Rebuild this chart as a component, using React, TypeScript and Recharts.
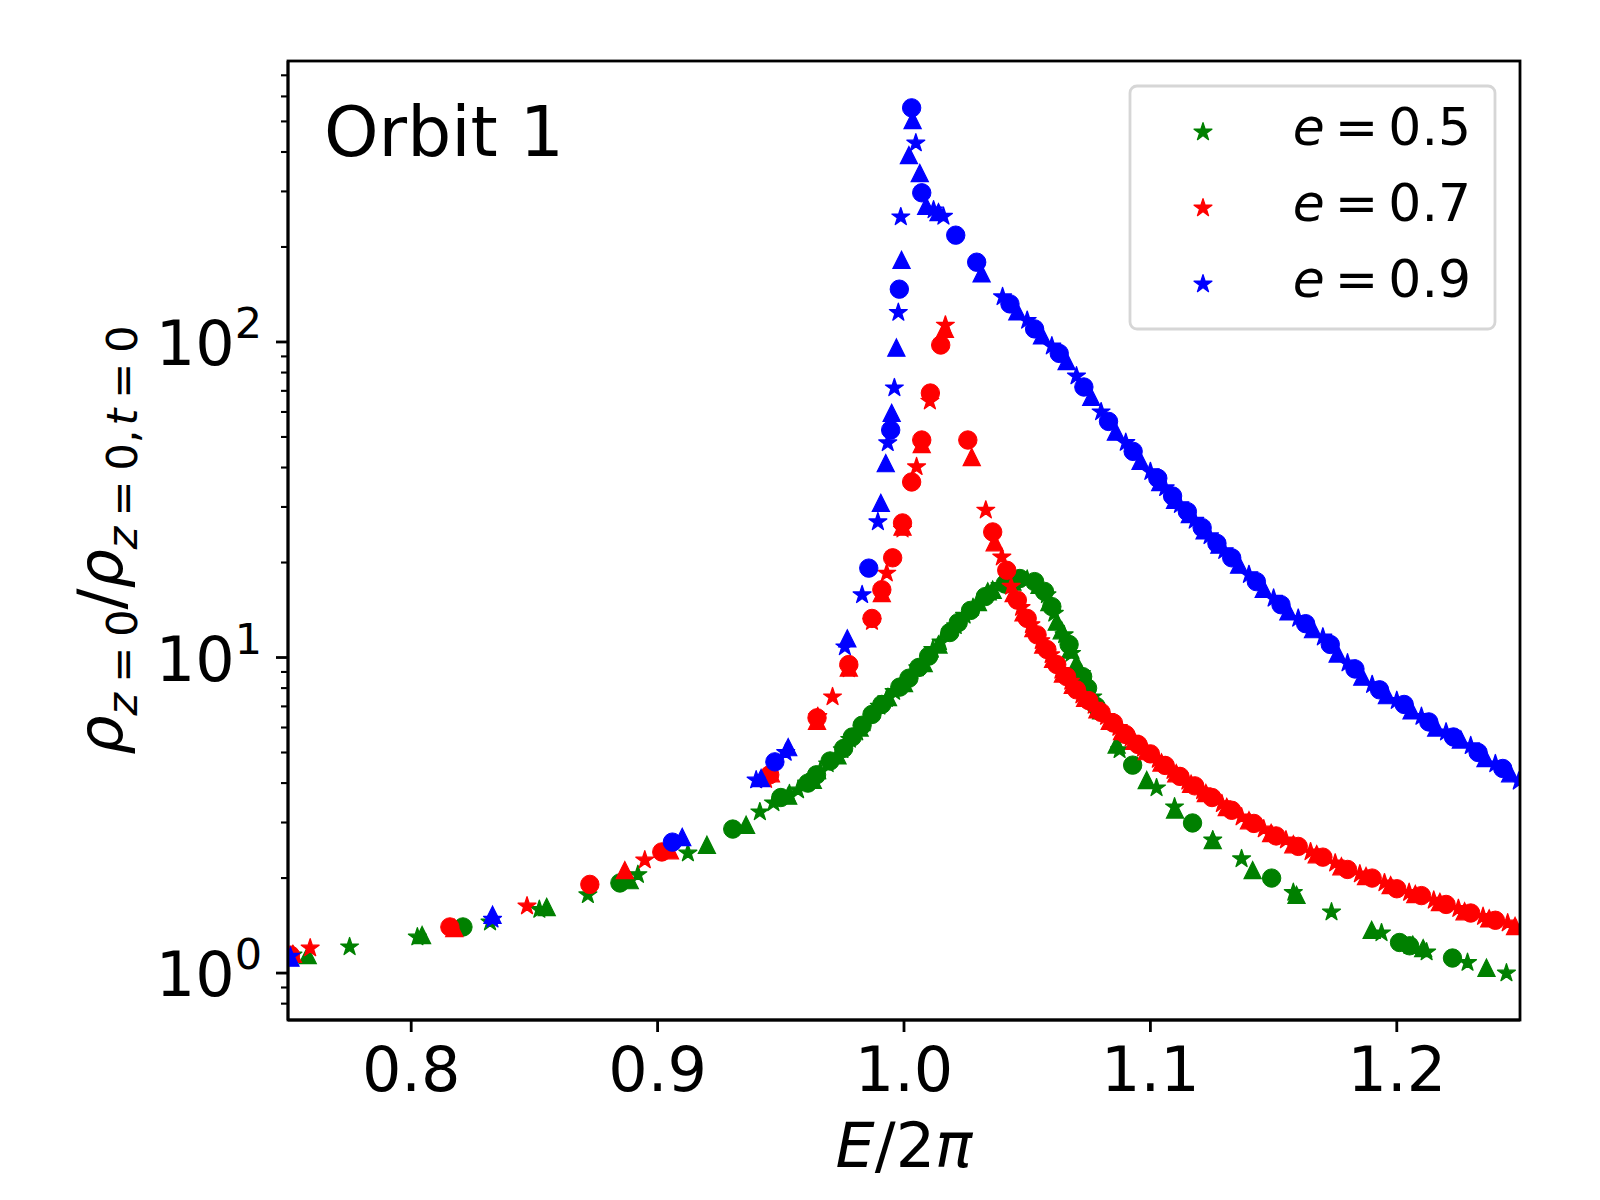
import React from 'react';
import { ScatterChart, Scatter, XAxis, YAxis } from 'recharts';

const FONT = '"DejaVu Sans", sans-serif';
const W = 1584;
const H = 1184;
const PL = 280;
const PT = 53;
const PW = 1232;
const PH = 959;
const PB = PT + PH;

const GREEN = '#008000';
const RED = '#ff0000';
const BLUE = '#0000ff';

const xDomain: [number, number] = [0.75, 1.25];
const yDomain: [number, number] = [0.71, 777];
const xTicks = [0.8, 0.9, 1.0, 1.1, 1.2];
const yMajorTicks = [1, 10, 100];
const yMajorExponents = ['0', '1', '2'];
const yMinorTicks = [0.8, 0.9, 2, 3, 4, 5, 6, 7, 8, 9, 20, 30, 40, 50, 60, 70, 80, 90, 200, 300, 400, 500, 600, 700];
const legendLabels = ['0.5', '0.7', '0.9'];

// e = 0.5
const greenStars: [number, number][] = [
  [0.752, 1.14], [0.775, 1.21], [0.8025, 1.30], [0.832, 1.45], [0.852, 1.59], [0.8717, 1.77], [0.892, 2.05],
  [0.9123, 2.40], [0.9415, 3.24], [0.947, 3.46], [0.9535, 3.7], [0.957, 3.8], [0.9605, 4.0], [0.966, 4.36],
  [0.969, 4.6], [0.975, 5.1], [0.978, 5.5], [0.981, 5.8], [0.984, 6.2], [0.990, 7.0], [0.993, 7.4], [0.996, 7.8],
  [1.000, 8.3], [1.0056, 9.27], [1.0117, 10.6], [1.015, 11.2], [1.021, 12.6], [1.0246, 13.6], [1.028, 14.4],
  [1.039, 16.9], [1.050, 17.7], [1.058, 15.8], [1.061, 13.8], [1.065, 11.8], [1.068, 10.3], [1.072, 8.9],
  [1.0766, 7.5], [1.0875, 5.1], [1.1025, 3.86], [1.1098, 3.36], [1.1253, 2.64], [1.137, 2.30], [1.158, 1.80],
  [1.1735, 1.56], [1.1938, 1.34], [1.2121, 1.166], [1.2287, 1.08], [1.2445, 1.0],
];
const greenCircles: [number, number][] = [
  [0.821, 1.40], [0.8847, 1.93], [0.9305, 2.86], [0.950, 3.6], [0.961, 4.0], [0.9645, 4.25], [0.970, 4.7],
  [0.9755, 5.15], [0.979, 5.6], [0.983, 6.1], [0.987, 6.6], [0.991, 7.1], [0.9983, 8.06], [1.002, 8.6],
  [1.006, 9.3], [1.010, 10.1], [1.0186, 12.0], [1.022, 12.9], [1.027, 14.1], [1.033, 15.6], [1.041, 17.1],
  [1.047, 17.8], [1.053, 17.4], [1.057, 16.2], [1.060, 14.5], [1.067, 11.0], [1.0725, 8.7], [1.0745, 8.0],
  [1.078, 7.0], [1.0928, 4.56], [1.1171, 2.99], [1.1492, 2.0], [1.2011, 1.25], [1.2052, 1.22], [1.2226, 1.116],
];
const greenTriangles: [number, number][] = [
  [0.758, 1.14], [0.8044, 1.32], [0.855, 1.62], [0.8887, 1.97], [0.92, 2.55], [0.9359, 2.95], [0.953, 3.65],
  [0.963, 4.1], [0.973, 4.9], [0.982, 6.0], [0.9935, 7.5], [1.000, 8.3], [1.008, 9.6], [1.014, 11.0],
  [1.030, 15.0], [1.034, 16.2], [1.036, 16.4], [1.044, 17.4], [1.055, 17.0], [1.059, 15.0], [1.062, 13.0],
  [1.064, 12.2], [1.0675, 10.6], [1.070, 9.6], [1.080, 6.8], [1.0863, 5.3], [1.0985, 4.09], [1.110, 3.3],
  [1.1253, 2.64], [1.1415, 2.12], [1.1593, 1.77], [1.1898, 1.37], [1.2065, 1.23], [1.2107, 1.2], [1.2364, 1.04],
];

// e = 0.7
const redStars: [number, number][] = [
  [0.759, 1.20], [0.847, 1.63], [0.8948, 2.28], [0.944, 4.1], [0.965, 6.5], [0.971, 7.5], [0.9776, 9.2],
  [0.987, 13.0], [0.993, 18.5], [0.9994, 25.5], [1.0051, 40.2], [1.0105, 64.9], [1.0168, 113], [1.0332, 29.3],
  [1.0397, 20.8], [1.0435, 16.8], [1.0475, 14.4], [1.0515, 12.7], [1.0555, 11.3], [1.0595, 10.2], [1.0635, 9.1],
  [1.0675, 8.4], [1.072, 7.6], [1.077, 7.05], [1.082, 6.5], [1.087, 6.0], [1.092, 5.55], [1.097, 5.15],
  [1.103, 4.75], [1.109, 4.38], [1.115, 4.05], [1.121, 3.78], [1.129, 3.44], [1.137, 3.12], [1.146, 2.86],
  [1.155, 2.64], [1.165, 2.42], [1.175, 2.23], [1.185, 2.06], [1.195, 1.93], [1.205, 1.8], [1.215, 1.7],
  [1.225, 1.6], [1.235, 1.51], [1.245, 1.44],
];
const redCircles: [number, number][] = [
  [0.751, 1.14], [0.8157, 1.40], [0.8725, 1.91], [0.9017, 2.42], [0.9455, 4.25], [0.9647, 6.44], [0.9776, 9.5],
  [0.987, 13.3], [0.991, 16.4], [0.9954, 20.7], [0.9994, 26.7], [1.0031, 36.0], [1.0072, 48.9], [1.0107, 68.9],
  [1.0149, 97.8], [1.0259, 48.9], [1.036, 25.0], [1.0417, 18.9], [1.046, 15.2], [1.050, 13.3], [1.054, 11.8],
  [1.058, 10.6], [1.062, 9.5], [1.066, 8.7], [1.070, 7.9], [1.075, 7.3], [1.080, 6.7], [1.085, 6.2], [1.090, 5.7],
  [1.095, 5.3], [1.100, 4.95], [1.106, 4.55], [1.112, 4.2], [1.118, 3.92], [1.125, 3.6], [1.133, 3.28],
  [1.142, 2.98], [1.151, 2.72], [1.160, 2.52], [1.170, 2.33], [1.180, 2.13], [1.190, 2.0], [1.200, 1.85],
  [1.210, 1.76], [1.220, 1.65], [1.230, 1.55], [1.240, 1.47],
];
const redTriangles: [number, number][] = [
  [0.752, 1.15], [0.8175, 1.39], [0.8867, 2.12], [0.905, 2.45], [0.946, 4.3], [0.9647, 6.3], [0.9776, 9.3],
  [0.991, 16.0], [0.9994, 26.0], [1.0072, 47.5], [1.0166, 110], [1.0275, 43.2], [1.0368, 23.2], [1.0445, 16.0],
  [1.0485, 13.9], [1.0525, 12.4], [1.0565, 11.0], [1.0605, 9.9], [1.0645, 8.9], [1.0685, 8.2], [1.0735, 7.45],
  [1.0785, 6.85], [1.0835, 6.3], [1.0885, 5.85], [1.0935, 5.45], [1.0985, 5.05], [1.1045, 4.65], [1.1105, 4.3],
  [1.1165, 3.98], [1.1225, 3.72], [1.131, 3.36], [1.14, 3.05], [1.149, 2.78], [1.158, 2.56], [1.1675, 2.38],
  [1.1775, 2.18], [1.1875, 2.03], [1.1975, 1.9], [1.2075, 1.78], [1.2175, 1.68], [1.2275, 1.57], [1.2375, 1.49],
  [1.248, 1.41],
];

// e = 0.9
const blueStars: [number, number][] = [
  [0.751, 1.13], [0.833, 1.48], [0.940, 4.09], [0.952, 5.0], [0.976, 10.8], [0.983, 15.8], [0.9894, 26.9],
  [0.9934, 47.9], [0.9961, 71.5], [0.9977, 124], [0.9987, 249], [1.0048, 427], [1.012, 262], [1.016, 250],
  [1.040, 139], [1.050, 117], [1.060, 97], [1.070, 78], [1.080, 60], [1.090, 48], [1.100, 38.8], [1.106, 34.5],
  [1.112, 30.5], [1.118, 27.2], [1.124, 24.3], [1.130, 21.8], [1.140, 18.3], [1.150, 15.4], [1.160, 13.3],
  [1.170, 11.6], [1.180, 9.6], [1.190, 8.2], [1.200, 7.3], [1.210, 6.5], [1.220, 5.8], [1.230, 5.25],
  [1.240, 4.6], [1.2495, 4.05],
];
const blueCircles: [number, number][] = [
  [0.906, 2.60], [0.9476, 4.67], [0.9857, 19.2], [0.9946, 52.6], [0.9981, 147], [1.0031, 552], [1.0072, 297],
  [1.021, 218], [1.0295, 179], [1.043, 132], [1.053, 110], [1.063, 92], [1.073, 72], [1.083, 56], [1.093, 45],
  [1.103, 37], [1.109, 32.5], [1.115, 29], [1.121, 25.8], [1.127, 23], [1.133, 20.7], [1.143, 17.4],
  [1.153, 14.7], [1.163, 12.8], [1.173, 11], [1.183, 9.2], [1.193, 7.9], [1.203, 7.1], [1.213, 6.25],
  [1.223, 5.6], [1.233, 5.0], [1.243, 4.45],
];
const blueTriangles: [number, number][] = [
  [0.751, 1.12], [0.833, 1.53], [0.910, 2.70], [0.942, 4.15], [0.953, 5.2], [0.977, 11.5], [0.9906, 30.9],
  [0.9926, 41.3], [0.9950, 59.6], [0.9969, 96], [0.999, 182], [1.0020, 391], [1.0035, 505], [1.0064, 343],
  [1.009, 270], [1.014, 258], [1.0315, 165], [1.046, 125], [1.056, 105], [1.066, 87], [1.076, 67], [1.086, 52],
  [1.096, 42], [1.104, 36], [1.110, 31.6], [1.116, 28.5], [1.122, 25.3], [1.128, 22.8], [1.136, 19.7],
  [1.146, 16.5], [1.156, 14], [1.166, 12.3], [1.176, 10.3], [1.186, 8.7], [1.196, 7.6], [1.206, 6.8],
  [1.216, 6.0], [1.226, 5.5], [1.236, 4.8], [1.246, 4.3],
];

const toPoints = (arr: [number, number][]) => arr.map(([x, y]) => ({ x, y }));

function starPath(cx: number, cy: number, R: number) {
  const r = R * 0.381966;
  let d = '';
  for (let i = 0; i < 10; i++) {
    const ang = -Math.PI / 2 + (i * Math.PI) / 5;
    const rad = i % 2 === 0 ? R : r;
    d += (i === 0 ? 'M' : 'L') + (cx + rad * Math.cos(ang)).toFixed(2) + ',' + (cy + rad * Math.sin(ang)).toFixed(2);
  }
  return d + 'Z';
}

function Marker({ kind, color, cx, cy }: { kind: string; color: string; cx: number; cy: number }) {
  if (cx == null || cy == null || isNaN(cx) || isNaN(cy)) return null;
  if (kind === 'circle') {
    return <circle cx={cx} cy={cy} r={9.2} fill={color} stroke={color} strokeWidth={1} />;
  }
  if (kind === 'triangle') {
    const h = 8.6;
    return (
      <path
        d={`M${cx},${cy - h}L${cx - h},${cy + h}L${cx + h},${cy + h}Z`}
        fill={color}
        stroke={color}
        strokeWidth={1.2}
        strokeLinejoin="miter"
      />
    );
  }
  return <path d={starPath(cx, cy, 9.4)} fill={color} stroke={color} strokeWidth={1.3} strokeLinejoin="round" />;
}

const makeShape = (kind: string, color: string) => (props: any) => (
  <Marker kind={kind} color={color} cx={props.cx} cy={props.cy} />
);

const XTick = (props: any) => {
  const { x, payload } = props;
  return (
    <g>
      <line x1={x} x2={x} y1={PB} y2={PB + 12} stroke="#000" strokeWidth={2.8} />
      <text x={x} y={PB + 71} textAnchor="middle" fontSize={62} fontFamily={FONT} fill="#000">
        {Number(payload.value).toFixed(1)}
      </text>
    </g>
  );
};

const YTick = (props: any) => {
  const { y, payload } = props;
  const idx = yMajorTicks.indexOf(payload.value);
  if (idx >= 0) {
    return (
      <g>
        <line x1={PL - 12} x2={PL} y1={y} y2={y} stroke="#000" strokeWidth={2.8} />
        <text x={PL - 26} y={y + 23} textAnchor="end" fontSize={62} fontFamily={FONT} fill="#000">
          <tspan>10</tspan>
          <tspan fontSize={43} dy={-27}>{yMajorExponents[idx]}</tspan>
        </text>
      </g>
    );
  }
  return <line x1={PL - 7} x2={PL} y1={y} y2={y} stroke="#000" strokeWidth={2.1} />;
};

const seriesDefs = [
  { name: 'g-star', data: greenStars, kind: 'star', color: GREEN },
  { name: 'g-circle', data: greenCircles, kind: 'circle', color: GREEN },
  { name: 'g-tri', data: greenTriangles, kind: 'triangle', color: GREEN },
  { name: 'r-star', data: redStars, kind: 'star', color: RED },
  { name: 'r-circle', data: redCircles, kind: 'circle', color: RED },
  { name: 'r-tri', data: redTriangles, kind: 'triangle', color: RED },
  { name: 'b-star', data: blueStars, kind: 'star', color: BLUE },
  { name: 'b-circle', data: blueCircles, kind: 'circle', color: BLUE },
  { name: 'b-tri', data: blueTriangles, kind: 'triangle', color: BLUE },
];

const legendColors = [GREEN, RED, BLUE];

export default function App() {
  const yTicks = [...yMinorTicks, ...yMajorTicks].sort((a, b) => a - b);
  return (
    <div style={{ position: 'relative', width: W, height: H, background: '#fff' }}>
      <ScatterChart width={W} height={H} margin={{ top: PT, right: W - PL - PW, left: 0, bottom: 0 }}>
        <XAxis
          type="number"
          dataKey="x"
          domain={xDomain}
          ticks={xTicks}
          interval={0}
          allowDataOverflow
          height={H - PT - PH}
          axisLine={{ stroke: '#000', strokeWidth: 2.8 }}
          tickLine={false}
          tick={<XTick />}
        />
        <YAxis
          type="number"
          dataKey="y"
          scale="log"
          domain={yDomain}
          ticks={yTicks}
          interval={0}
          allowDataOverflow
          width={PL}
          axisLine={{ stroke: '#000', strokeWidth: 2.8 }}
          tickLine={false}
          tick={<YTick />}
        />
        {seriesDefs.map((s) => (
          <Scatter
            key={s.name}
            name={s.name}
            data={toPoints(s.data)}
            fill={s.color}
            shape={makeShape(s.kind, s.color)}
            isAnimationActive={false}
          />
        ))}
      </ScatterChart>
      <svg
        width={W}
        height={H}
        style={{ position: 'absolute', left: 0, top: 0, pointerEvents: 'none' }}
        fontFamily={FONT}
      >
        <rect x={PL} y={PT} width={PW} height={PH} fill="none" stroke="#000" strokeWidth={2.8} />
        <text x={316} y={148} fontSize={69.4} fill="#000">Orbit 1</text>
        <text x={896} y={1159} textAnchor="middle" fontSize={62} fill="#000">
          <tspan fontStyle="italic">E</tspan>
          <tspan>/2</tspan>
          <tspan fontStyle="italic">π</tspan>
        </text>
        <text transform="rotate(-90 114 532)" x={114} y={532} textAnchor="middle" fontSize={62} fill="#000">
          <tspan fontStyle="italic">ρ</tspan>
          <tspan fontSize={43} fontStyle="italic" dy={15}>z</tspan>
          <tspan fontSize={43} dx={10}>=</tspan>
          <tspan fontSize={43} dx={10}>0</tspan>
          <tspan dy={-15}>/</tspan>
          <tspan fontStyle="italic">ρ</tspan>
          <tspan fontSize={43} fontStyle="italic" dy={15}>z</tspan>
          <tspan fontSize={43} dx={10}>=</tspan>
          <tspan fontSize={43} dx={10}>0,</tspan>
          <tspan fontSize={43} fontStyle="italic" dx={4}>t</tspan>
          <tspan fontSize={43} dx={10}>=</tspan>
          <tspan fontSize={43} dx={10}>0</tspan>
        </text>
        <rect x={1122} y={78} width={365} height={243} rx={7} fill="#fff" fillOpacity={0.8} stroke="#d6d6d6" strokeWidth={2.8} />
        {legendLabels.map((lab, i) => (
          <g key={lab}>
            <path d={starPath(1195, 124 + i * 76, 9.4)} fill={legendColors[i]} stroke={legendColors[i]} strokeWidth={1.3} strokeLinejoin="round" />
            <text x={1463} y={137 + i * 76} textAnchor="end" fontSize={52} fill="#000">
              <tspan fontStyle="italic">e</tspan>
              <tspan dx={10}>=</tspan>
              <tspan dx={10}>{lab}</tspan>
            </text>
          </g>
        ))}
      </svg>
    </div>
  );
}
